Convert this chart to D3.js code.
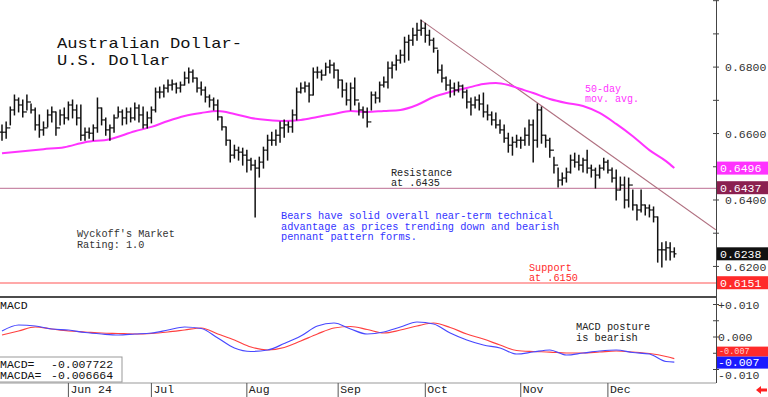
<!DOCTYPE html>
<html><head><meta charset="utf-8">
<script src="https://cdn.jsdelivr.net/npm/d3@7/dist/d3.min.js"></script>
<style>
html,body{margin:0;padding:0;background:#fff;}
svg{display:block;}
text{font-family:"Liberation Mono","DejaVu Sans Mono",monospace;}
</style></head>
<body>
<svg id="c" width="768" height="397"></svg>
<script>
// ---------- DATA ----------
const highs = [
.6626,.6635,.6680,.6716,.6707,.6701,.6716,.6689,.6677,.6656,
.6635,.6671,.6680,.6665,.6671,.6677,.6695,.6701,.6686,.6686,
.6617,.6617,.6626,.6707,.6677,.6647,.6626,.6656,.6680,.6671,
.6677,.6677,.6692,.6686,.6680,.6665,.6680,.6737,.6740,.6746,
.6761,.6761,.6752,.6755,.6785,.6797,.6791,.6767,.6755,.6740,
.6716,.6707,.6701,.6650,.6620,.6580,.6565,.6559,.6556,.6550,
.6526,.6520,.6529,.6559,.6595,.6604,.6611,.6635,.6641,.6635,
.6671,.6737,.6752,.6755,.6752,.6797,.6800,.6791,.6812,.6821,
.6812,.6791,.6761,.6752,.6752,.6767,.6692,.6680,.6677,.6725,
.6725,.6755,.6770,.6815,.6815,.6836,.6851,.6890,.6896,.6917,
.6932,.6941,.6932,.6911,.6887,.6851,.6806,.6770,.6761,.6752,
.6755,.6746,.6731,.6707,.6710,.6716,.6722,.6686,.6665,.6662,
.6641,.6626,.6601,.6589,.6595,.6589,.6617,.6641,.6641,.6689,
.6680,.6595,.6586,.6529,.6496,.6481,.6496,.6535,.6541,.6535,
.6526,.6550,.6505,.6496,.6505,.6526,.6520,.6496,.6490,.6469,
.6469,.6466,.6430,.6385,.6430,.6385,.6385,.6379,.6349,.6271,
.6274,.6271,.6256];
const lows = [
.6580,.6586,.6626,.6656,.6665,.6650,.6671,.6662,.6611,.6589,
.6595,.6620,.6635,.6595,.6626,.6629,.6641,.6647,.6626,.6580,
.6580,.6586,.6580,.6604,.6626,.6595,.6580,.6604,.6650,.6626,
.6629,.6635,.6641,.6635,.6617,.6617,.6632,.6665,.6707,.6710,
.6725,.6731,.6722,.6725,.6746,.6752,.6755,.6725,.6716,.6695,
.6680,.6671,.6641,.6611,.6565,.6514,.6526,.6520,.6505,.6484,
.6490,.6349,.6469,.6496,.6520,.6565,.6565,.6574,.6589,.6604,
.6604,.6641,.6722,.6725,.6695,.6716,.6767,.6761,.6776,.6782,
.6767,.6737,.6710,.6686,.6671,.6686,.6656,.6647,.6620,.6671,
.6692,.6695,.6740,.6737,.6767,.6791,.6812,.6815,.6821,.6866,
.6881,.6896,.6875,.6866,.6845,.6782,.6755,.6731,.6710,.6716,
.6725,.6707,.6677,.6656,.6677,.6671,.6650,.6641,.6626,.6617,
.6601,.6574,.6544,.6535,.6559,.6556,.6565,.6565,.6514,.6559,
.6571,.6559,.6529,.6481,.6439,.6445,.6454,.6481,.6499,.6490,
.6484,.6481,.6469,.6436,.6466,.6490,.6481,.6454,.6400,.6430,
.6376,.6379,.6370,.6340,.6364,.6355,.6349,.6334,.6213,.6198,
.6219,.6219,.6228];
const closes = [
.6604,.6617,.6671,.6701,.6686,.6665,.6695,.6671,.6626,.6611,
.6617,.6656,.6665,.6617,.6656,.6647,.6686,.6671,.6647,.6595,
.6604,.6601,.6617,.6677,.6641,.6611,.6617,.6647,.6665,.6647,
.6665,.6647,.6677,.6656,.6626,.6647,.6671,.6725,.6725,.6737,
.6746,.6749,.6737,.6746,.6767,.6785,.6767,.6737,.6731,.6710,
.6701,.6686,.6650,.6620,.6580,.6535,.6550,.6544,.6535,.6520,
.6505,.6496,.6514,.6550,.6580,.6580,.6595,.6617,.6626,.6620,
.6656,.6725,.6737,.6743,.6716,.6785,.6785,.6776,.6800,.6806,
.6791,.6761,.6731,.6701,.6737,.6701,.6671,.6665,.6635,.6716,
.6707,.6746,.6755,.6797,.6806,.6821,.6836,.6875,.6881,.6896,
.6911,.6917,.6896,.6881,.6857,.6791,.6767,.6746,.6737,.6731,
.6743,.6725,.6695,.6686,.6701,.6689,.6665,.6656,.6641,.6626,
.6611,.6586,.6565,.6574,.6580,.6580,.6595,.6626,.6580,.6671,
.6595,.6580,.6550,.6505,.6460,.6466,.6484,.6520,.6514,.6505,
.6520,.6496,.6490,.6475,.6496,.6514,.6490,.6466,.6430,.6445,
.6400,.6445,.6385,.6370,.6385,.6376,.6370,.6349,.6250,.6250,
.6256,.6244,.6238];

// 50-day moving average, read at sampled bar indices
const maIdx = [0,10,15,20,26,32,36,40,44,48,52,56,60,64,68,72,76,80,84,88,92,96,100,104,108,112,116,119,122,125,128,132,136,140,144,148,152,156,160,162];
const maVal = [.6541,.6553,.6559,.6574,.6583,.6607,.6620,.6638,.6653,.6662,.6668,.6659,.6647,.6641,.6638,.6641,.6650,.6659,.6668,.6665,.6668,.6671,.6686,.6710,.6725,.6737,.6749,.6752,.6746,.6734,.6722,.6704,.6692,.6683,.6662,.6629,.6592,.6550,.6517,.6496];

// MACD and MACD average, read at sampled bar indices
const macdIdx = [0,4,8,12,16,20,24,28,32,36,40,44,48,52,56,60,64,68,72,76,80,84,88,92,96,100,104,108,112,116,120,124,128,132,136,140,144,148,152,156,160,162];
const macdVal = [.00185,.00369,.00338,.00246,.00215,.00138,.00092,.00062,.00092,.00123,.00215,.00308,.00262,-.00031,-.00338,-.00446,-.00400,-.00200,.00031,.00338,.00431,.00246,.00092,.00154,.00308,.00462,.00400,.00123,-.00092,-.00246,-.00338,-.00523,-.00462,-.00400,-.00554,-.00492,-.00431,-.00400,-.00477,-.00523,-.00754,-.007722];
const macdaVal = [.00062,.00185,.00308,.00246,.00185,.00154,.00123,.00108,.00092,.00108,.00154,.00215,.00277,.00092,-.00092,-.00308,-.00400,-.00323,-.00123,.00092,.00277,.00323,.00231,.00123,.00215,.00338,.00431,.00292,.00092,-.00062,-.00246,-.00415,-.00446,-.00462,-.00492,-.00492,-.00462,-.00431,-.00462,-.00508,-.00600,-.006664];

const monthLabels = ["Jun 24","Jul","Aug","Sep","Oct","Nov","Dec"];
const monthIdx = [16,36,59,81,102,125,146];
const priceTickLabels = ["0.6800","0.6600","0.6400","0.6200"];
const priceTickValues = [0.68,0.66,0.64,0.62];
const priceMinorTicks = [0.70,0.69,0.68,0.67,0.66,0.65,0.64,0.63,0.62];
const macdTickLabels = ["+0.010"," 0.000","-0.010"];
const macdTickValues = [0.010,0.0,-0.010];
const macdMinorTicks = [0.010,0.005,0,-0.005,-0.010];
const resistance = 0.6435, resistanceLast = 0.6437;
const support = 0.6150, supportLast = 0.6151;
const maLast = 0.6496, lastClose = 0.6238;
const macdLast = -0.007722, macdaLast = -0.006664;
const boxLabels = {ma:"0.6496", res:"0.6437", close:"0.6238", sup:"0.6151", macd:"-0.007", macda:"-0.007"};
const trendIdx = [100.8, 172], trendVal = [0.6943, 0.6310];

// ---------- CHART ----------
const svg = d3.select("#c");
const W = 716;
const x = d3.scaleLinear().domain([0,162]).range([2,674.3]);
const y = d3.scaleLinear().domain([0.6108,0.7002]).range([297,0]);
const ym = d3.scaleLinear().domain([-0.01415,0.01231]).range([383,297]);

svg.append("defs").append("clipPath").attr("id","pc").append("rect")
  .attr("x",0).attr("y",0).attr("width",W).attr("height",297);

const pg = svg.append("g").attr("clip-path","url(#pc)");

// resistance & support
pg.append("line").attr("x1",0).attr("x2",W).attr("y1",y(resistance)).attr("y2",y(resistance))
  .attr("stroke","#c98aa8").attr("stroke-width",1.3);
pg.append("line").attr("x1",0).attr("x2",W).attr("y1",y(support)).attr("y2",y(support))
  .attr("stroke","#ff8c8c").attr("stroke-width",1.5);

// trend line
pg.append("line").attr("x1",x(trendIdx[0])).attr("y1",y(trendVal[0]))
  .attr("x2",x(trendIdx[1])).attr("y2",y(trendVal[1]))
  .attr("stroke","#b07080").attr("stroke-width",1.1);

// moving average
pg.append("path").datum(maIdx.map((d,i)=>[d,maVal[i]]))
  .attr("d",d3.line().x(d=>x(d[0])).y(d=>y(d[1])).curve(d3.curveMonotoneX))
  .attr("fill","none").attr("stroke","#ff33ff").attr("stroke-width",2);

// OHLC bars
const bars = pg.append("g").attr("stroke","#111").attr("stroke-width",1.5);
highs.forEach((h,i)=>{
  const xi = x(i);
  bars.append("line").attr("x1",xi).attr("x2",xi).attr("y1",y(h)-0.5).attr("y2",y(lows[i])+0.5);
  const o = i>0 ? closes[i-1] : closes[i];
  bars.append("line").attr("x1",xi-2).attr("x2",xi).attr("y1",y(o)).attr("y2",y(o)).attr("stroke-width",1.2);
  bars.append("line").attr("x1",xi).attr("x2",xi+2.2).attr("y1",y(closes[i])).attr("y2",y(closes[i])).attr("stroke-width",1.2);
});

// panel separator
svg.append("line").attr("x1",0).attr("x2",W).attr("y1",297).attr("y2",297)
  .attr("stroke","#111").attr("stroke-width",1.3);
// bottom axis line
svg.append("line").attr("x1",0).attr("x2",W).attr("y1",383).attr("y2",383)
  .attr("stroke","#999").attr("stroke-width",1);

// MACD lines
const mline = d3.line().x(d=>x(d[0])).y(d=>ym(d[1])).curve(d3.curveMonotoneX);
svg.append("path").datum(macdIdx.map((d,i)=>[d,macdaVal[i]])).attr("d",mline)
  .attr("fill","none").attr("stroke","#ff4040").attr("stroke-width",1.2);
svg.append("path").datum(macdIdx.map((d,i)=>[d,macdVal[i]])).attr("d",mline)
  .attr("fill","none").attr("stroke","#4848ff").attr("stroke-width",1.2);

// right axis
svg.append("line").attr("x1",W+0.5).attr("x2",W+0.5).attr("y1",0).attr("y2",383)
  .attr("stroke","#444").attr("stroke-width",1);
const axg = svg.append("g").attr("stroke","#444");
priceMinorTicks.forEach(v=>{
  axg.append("line").attr("x1",W-3).attr("x2",W+3).attr("y1",y(v)).attr("y2",y(v));
});
macdMinorTicks.forEach(v=>{
  axg.append("line").attr("x1",W-3).attr("x2",W+3).attr("y1",ym(v)).attr("y2",ym(v));
});
const tstyle = s=>s.attr("font-size","11.5px").attr("fill","#333");
priceTickValues.forEach((v,i)=>{
  svg.append("text").attr("x",725).attr("y",y(v)).attr("dy","0.36em")
    .text(priceTickLabels[i]).call(tstyle);
});
macdTickValues.forEach((v,i)=>{
  // the lowest label sits just below the overlapping MACD value boxes
  const off = v < 0 ? 5 : 0;
  svg.append("text").attr("x",718).attr("y",ym(v)+off).attr("dy","0.36em").text(macdTickLabels[i]).call(tstyle);
});

// value boxes
function box(v, scale, bg, label){
  const cy = scale(v);
  svg.append("rect").attr("x",717).attr("y",cy-6.5).attr("width",51).attr("height",13).attr("fill",bg);
  svg.append("text").attr("x",720).attr("y",cy).attr("dy","0.36em").attr("font-size","11.5px")
    .attr("fill","#fff").text(label);
}
box(maLast, y, "#ff33ff", boxLabels.ma);
box(resistanceLast, y, "#8b2050", boxLabels.res);
box(lastClose, y, "#111", boxLabels.close);
box(supportLast, y, "#ff2a2a", boxLabels.sup);
// MACD boxes (stacked)
(function(){
  const cyM = ym(macdLast);
  svg.append("rect").attr("x",717).attr("y",cyM-15.5).attr("width",51).attr("height",10).attr("fill","#ff2a2a");
  svg.append("text").attr("x",719).attr("y",cyM-10.5).attr("dy","0.34em").attr("font-size","8.5px").attr("fill","#ffd0d0").text(boxLabels.macda);
  svg.append("rect").attr("x",717).attr("y",cyM-5.5).attr("width",51).attr("height",12).attr("fill","#1a1aff");
  svg.append("text").attr("x",718).attr("y",cyM).attr("dy","0.36em").attr("font-size","11.5px").attr("fill","#fff").text(boxLabels.macd);
})();

// month ticks & labels
monthIdx.forEach((m,i)=>{
  const xm = x(m);
  svg.append("line").attr("x1",xm).attr("x2",xm).attr("y1",383).attr("y2",397).attr("stroke","#555").attr("stroke-width",1);
  svg.append("text").attr("x",xm+2).attr("y",393).attr("font-size","11.5px").attr("fill","#222").text(monthLabels[i]);
});

// red arrow bottom right
svg.append("path").attr("d","M756,390 L761,386 L761,388.5 L767,388.5 L767,391.5 L761,391.5 L761,394 Z").attr("fill","#ff2020");

// texts
function txt(xp, yp, s, size, color){
  return svg.append("text").attr("x",xp).attr("y",yp).attr("font-size",size).attr("fill",color).text(s);
}
txt(57,48,"Australian Dollar-","15px","#111").attr("textLength",185).attr("lengthAdjust","spacingAndGlyphs");
txt(57,65,"U.S. Dollar","15px","#111").attr("textLength",113).attr("lengthAdjust","spacingAndGlyphs");
txt(391,176,"Resistance","10.2px","#222");
txt(391,186,"at .6435","10.2px","#222");
txt(281,219,"Bears have solid overall near-term technical","10.3px","#3333ff");
txt(281,229.5,"advantage as prices trending down and bearish","10.3px","#3333ff");
txt(281,240,"pennant pattern forms.","10.3px","#3333ff");
txt(77,237,"Wyckoff's Market","10.2px","#333");
txt(77,247.5,"Rating: 1.0","10.2px","#333");
txt(585,92,"50-day","10px","#ff33ff");
txt(585,102,"mov. avg.","10px","#ff33ff");
txt(529,271,"Support","10.2px","#ff2a2a");
txt(529,281,"at .6150","10.2px","#ff2a2a");
txt(0,309,"MACD","11.5px","#111");
txt(576,330,"MACD posture","10.3px","#222");
txt(576,341,"is bearish","10.3px","#222");

// MACD value box
svg.append("rect").attr("x",-1).attr("y",357).attr("width",123).attr("height",25).attr("fill","#fff").attr("stroke","#999");
txt(0,367.5,"MACD=","11.5px","#111");
txt(0,379,"MACDA=","11.5px","#111");
txt(51,367.5,d3.format(".6f")(macdLast).replace("\u2212","-"),"11.5px","#111");
txt(51,379,d3.format(".6f")(macdaLast).replace("\u2212","-"),"11.5px","#111");
</script>
</body></html>
